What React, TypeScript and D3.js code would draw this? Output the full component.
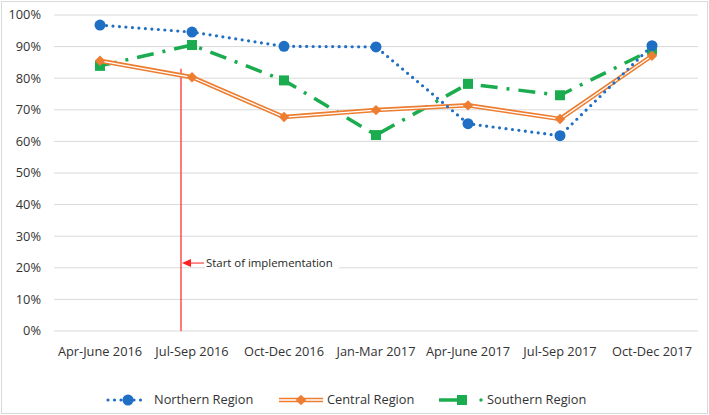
import React, { useEffect, useRef } from "react";
import * as d3 from "d3";

const quarters = [
  "Apr-June 2016",
  "Jul-Sep 2016",
  "Oct-Dec 2016",
  "Jan-Mar 2017",
  "Apr-June 2017",
  "Jul-Sep 2017",
  "Oct-Dec 2017",
];
const northern = [96.8, 94.6, 90.1, 89.9, 65.6, 61.8, 90.3];
const central = [85.5, 80.3, 67.7, 69.9, 71.4, 67.1, 87.1];
const southern = [83.9, 90.5, 79.3, 62.0, 78.2, 74.6, 89.0];
const yTicks = [0, 10, 20, 30, 40, 50, 60, 70, 80, 90, 100];
const seriesNames = ["Northern Region", "Central Region", "Southern Region"];
const annotation = "Start of implementation";

const W = 709,
  H = 415;
const margin = { top: 15, right: 11, bottom: 84, left: 54 };
const font = "'Open Sans', sans-serif";
const fs = 12.8;

const App = () => {
  const ref = useRef<SVGSVGElement>(null);

  useEffect(() => {
    document.body.style.margin = "0";
    const svg = d3.select(ref.current);
    svg.selectAll("*").remove();

    const x = d3
      .scaleBand()
      .domain(quarters)
      .range([margin.left, W - margin.right]);
    const y = d3
      .scaleLinear()
      .domain([0, 100])
      .range([H - margin.bottom, margin.top]);
    const cx = (i: number) => (x(quarters[i]) as number) + x.bandwidth() / 2;

    svg
      .append("rect")
      .attr("x", 1.5)
      .attr("y", 1.5)
      .attr("width", W - 3)
      .attr("height", H - 3)
      .attr("fill", "white")
      .attr("stroke", "#d9d9d9");

    // gridlines
    svg
      .append("g")
      .selectAll("line")
      .data(yTicks)
      .enter()
      .append("line")
      .attr("x1", margin.left)
      .attr("x2", W - margin.right)
      .attr("y1", (d) => y(d))
      .attr("y2", (d) => y(d))
      .attr("stroke", "#d9d9d9")
      .attr("stroke-width", 1);

    svg
      .append("g")
      .selectAll("text")
      .data(yTicks)
      .enter()
      .append("text")
      .attr("x", margin.left - 13)
      .attr("y", (d) => y(d))
      .attr("dy", "0.35em")
      .attr("text-anchor", "end")
      .attr("font-family", font)
      .attr("font-size", fs)
      .attr("fill", "#333")
      .text((d) => d + "%");

    svg
      .append("g")
      .selectAll("text")
      .data(quarters)
      .enter()
      .append("text")
      .attr("x", (d, i) => cx(i))
      .attr("y", y(0) + 25)
      .attr("text-anchor", "middle")
      .attr("font-family", font)
      .attr("font-size", fs)
      .attr("fill", "#333")
      .text((d) => d);

    // implementation marker
    const lx = (cx(0) + cx(1)) / 2 + 35;
    svg
      .append("line")
      .attr("x1", lx)
      .attr("x2", lx)
      .attr("y1", y(83))
      .attr("y2", y(0))
      .attr("stroke", "#ff2020")
      .attr("stroke-width", 1.2);
    const ay = y(21.5);
    svg
      .append("line")
      .attr("x1", lx + 8)
      .attr("x2", lx + 23)
      .attr("y1", ay)
      .attr("y2", ay)
      .attr("stroke", "#ff2020")
      .attr("stroke-width", 1);
    svg
      .append("path")
      .attr("d", `M${lx + 1},${ay} L${lx + 10},${ay - 4} L${lx + 10},${ay + 4} Z`)
      .attr("fill", "#ff2020");
    svg
      .append("rect")
      .attr("x", lx + 24)
      .attr("y", ay - 8)
      .attr("width", 134)
      .attr("height", 16)
      .attr("fill", "white");
    svg
      .append("text")
      .attr("x", lx + 25)
      .attr("y", ay)
      .attr("dy", "0.35em")
      .attr("font-family", font)
      .attr("font-size", 11.4)
      .attr("fill", "#262626")
      .text(annotation);

    const line = d3
      .line<number>()
      .x((d, i) => cx(i))
      .y((d) => y(d));

    // southern
    svg
      .append("path")
      .attr("d", line(southern))
      .attr("fill", "none")
      .attr("stroke", "#1aac4e")
      .attr("stroke-width", 3.5)
      .attr("stroke-dasharray", "17 9 3 9");
    svg
      .append("g")
      .selectAll("rect")
      .data(southern)
      .enter()
      .append("rect")
      .attr("x", (d, i) => cx(i) - 5)
      .attr("y", (d) => y(d) - 5)
      .attr("width", 10)
      .attr("height", 10)
      .attr("fill", "#1aac4e");

    // central (double line)
    svg
      .append("path")
      .attr("d", line(central))
      .attr("fill", "none")
      .attr("stroke", "#ed7d31")
      .attr("stroke-width", 4.5);
    svg
      .append("path")
      .attr("d", line(central))
      .attr("fill", "none")
      .attr("stroke", "white")
      .attr("stroke-width", 1.3);
    const diamond = d3.symbol().type(d3.symbolDiamond2).size(70);
    svg
      .append("g")
      .selectAll("path")
      .data(central)
      .enter()
      .append("path")
      .attr("d", diamond)
      .attr("transform", (d, i) => `translate(${cx(i)},${y(d)})`)
      .attr("fill", "#ed7d31");

    // northern
    svg
      .append("path")
      .attr("d", line(northern))
      .attr("fill", "none")
      .attr("stroke", "#1f6fc5")
      .attr("stroke-width", 3.2)
      .attr("stroke-linecap", "round")
      .attr("stroke-dasharray", "0 6.5");
    svg
      .append("g")
      .selectAll("circle")
      .data(northern)
      .enter()
      .append("circle")
      .attr("cx", (d, i) => cx(i))
      .attr("cy", (d) => y(d))
      .attr("r", 5.5)
      .attr("fill", "#1f6fc5");

    // legend
    const ly = 400;
    const leg = svg.append("g");
    leg
      .append("line")
      .attr("x1", 108)
      .attr("x2", 146)
      .attr("y1", ly)
      .attr("y2", ly)
      .attr("stroke", "#1f6fc5")
      .attr("stroke-width", 3.2)
      .attr("stroke-linecap", "round")
      .attr("stroke-dasharray", "0 6.5");
    leg.append("circle").attr("cx", 128).attr("cy", ly).attr("r", 5.5).attr("fill", "#1f6fc5");
    leg
      .append("line")
      .attr("x1", 279)
      .attr("x2", 323)
      .attr("y1", ly)
      .attr("y2", ly)
      .attr("stroke", "#ed7d31")
      .attr("stroke-width", 4.5);
    leg
      .append("line")
      .attr("x1", 279)
      .attr("x2", 323)
      .attr("y1", ly)
      .attr("y2", ly)
      .attr("stroke", "white")
      .attr("stroke-width", 1.3);
    leg
      .append("path")
      .attr("d", diamond)
      .attr("transform", `translate(301,${ly})`)
      .attr("fill", "#ed7d31");
    leg
      .append("line")
      .attr("x1", 439)
      .attr("x2", 462)
      .attr("y1", ly)
      .attr("y2", ly)
      .attr("stroke", "#1aac4e")
      .attr("stroke-width", 3.5);
    leg.append("rect").attr("x", 457).attr("y", ly - 5).attr("width", 10).attr("height", 10).attr("fill", "#1aac4e");
    leg.append("circle").attr("cx", 481).attr("cy", ly).attr("r", 1.7).attr("fill", "#1aac4e");
    const lx2 = [154, 327, 487];
    leg
      .selectAll("text")
      .data(seriesNames)
      .enter()
      .append("text")
      .attr("x", (d, i) => lx2[i])
      .attr("y", ly)
      .attr("dy", "0.35em")
      .attr("font-family", font)
      .attr("font-size", fs)
      .attr("fill", "#333")
      .text((d) => d);
  }, []);

  return <svg ref={ref} width={W} height={H} style={{ display: "block" }} />;
};

export default App;
